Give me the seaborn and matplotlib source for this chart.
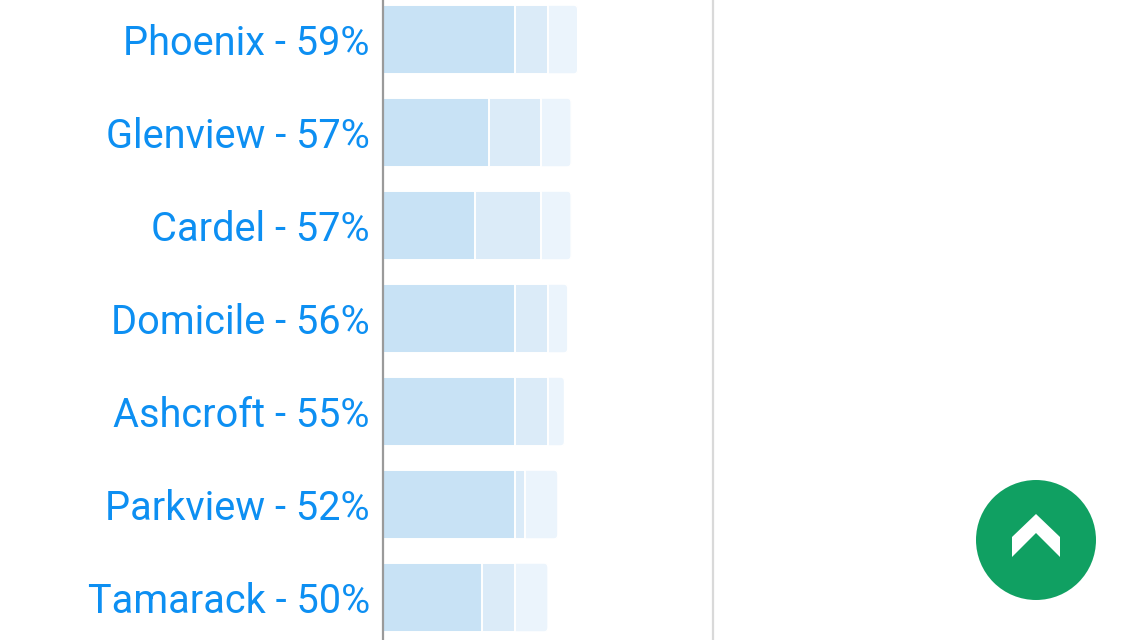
import matplotlib
matplotlib.use("Agg")
from matplotlib import pyplot as plt
from matplotlib.patches import Circle, Polygon, FancyBboxPatch
import seaborn as sns
import pandas as pd

# data (percent)
teams = ["Phoenix", "Glenview", "Cardel", "Domicile", "Ashcroft", "Parkview", "Tamarack"]
totals = [59, 57, 57, 56, 55, 52, 50]
part1 = [40, 32, 28, 40, 40, 40, 30]
part2 = [10, 16, 20, 10, 10, 3, 10]
part3 = [9, 9, 9, 6, 5, 10, 10]

labels = [f"{t} - {p}%" for t, p in zip(teams, totals)]
df = pd.DataFrame({
    "label": labels,
    "p1": part1,
    "p12": [a + b for a, b in zip(part1, part2)],
    "p123": [a + b + c for a, b, c in zip(part1, part2, part3)],
})

sns.set_style("white")
plt.rcParams["font.family"] = ["Roboto", "DejaVu Sans"]

fig = plt.figure(figsize=(11.36, 6.4), dpi=100)
ax = fig.add_axes([383 / 1136, 0, 330 / 1136, 1])

colors = ["#ebf4fc", "#dbebf8", "#c8e2f5"]
for col, c in zip(["p123", "p12", "p1"], colors):
    sns.barplot(data=df, x=col, y="label", color=c, width=0.74,
                edgecolor="white", linewidth=1.4, saturation=1, ax=ax)

# round the outer segment
n = len(teams)
for p in list(ax.patches[:n]):
    x, y = p.get_x(), p.get_y()
    w, h = p.get_width(), p.get_height()
    p.remove()
    ax.add_patch(FancyBboxPatch((x, y), w, h, boxstyle="round,pad=0,rounding_size=1.2",
                                mutation_aspect=0.04, facecolor=colors[0],
                                edgecolor="white", linewidth=1.0, zorder=0.5))

ax.set_xlim(0, 100)
ax.set_ylim(6.457, -0.425)
ax.set_xlabel("")
ax.set_ylabel("")
ax.set_xticks([])
ax.tick_params(axis="y", length=0, pad=9.5, labelsize=28.6, labelcolor="#0d8ff2")

for s in ["top", "bottom"]:
    ax.spines[s].set_visible(False)
ax.spines["left"].set_color("#9a9a9a")
ax.spines["left"].set_linewidth(1.6)
ax.spines["right"].set_color("#d9d9d9")
ax.spines["right"].set_linewidth(1.6)

# scroll-to-top button
tr = fig.dpi_scale_trans
fig.add_artist(Circle((10.36, 1.0), 0.6, transform=tr, facecolor="#10a062", edgecolor="none"))
pts = [(1012, 537), (1036, 514), (1060, 537), (1060, 557), (1036, 533), (1012, 557)]
fig.add_artist(Polygon([(x / 100, (640 - y) / 100) for x, y in pts], closed=True,
                       transform=tr, facecolor="white", edgecolor="none"))

fig.savefig("out.png", dpi=100)
